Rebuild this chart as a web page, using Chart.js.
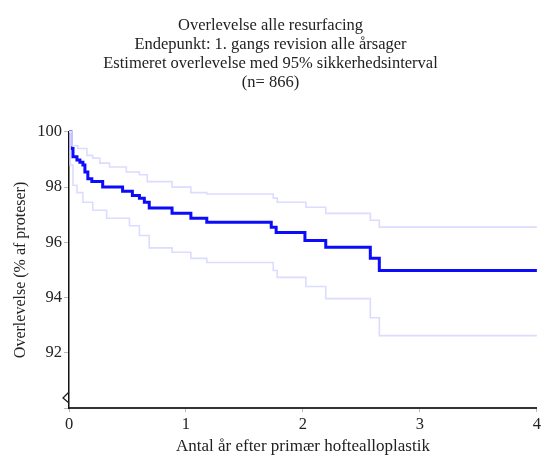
<!DOCTYPE html>
<html>
<head>
<meta charset="utf-8">
<script src="https://cdn.jsdelivr.net/npm/chart.js@4"></script>
<style>
  html, body { margin: 0; padding: 0; background: #fff; }
  #wrap { width: 544px; height: 457px; }
</style>
</head>
<body>
<div id="wrap"><canvas id="chart" width="544" height="457"></canvas></div>
<script>
// Kaplan-Meier overlevelse, år efter operation -> %
const years = [0, 0.017, 0.034, 0.068, 0.093, 0.119, 0.136, 0.161, 0.195, 0.288, 0.458, 0.542, 0.602, 0.644, 0.686, 0.881, 1.042, 1.178, 1.729, 1.771, 2.017, 2.195, 2.576, 2.653, 4.0];
const survival = [100, 99.4, 99.1, 98.98, 98.9, 98.8, 98.55, 98.3, 98.2, 98.0, 97.85, 97.7, 97.6, 97.45, 97.24, 97.05, 96.87, 96.73, 96.55, 96.36, 96.07, 95.82, 95.42, 94.98, 94.98];

// øvre 95% grænse
const upperYears = [0, 0.025, 0.076, 0.153, 0.203, 0.263, 0.347, 0.49, 0.602, 0.669, 0.881, 1.042, 1.178, 1.746, 1.78, 2.025, 2.195, 2.576, 2.653, 4.0];
const upper = [100, 99.5, 99.4, 99.15, 99.05, 98.87, 98.73, 98.55, 98.45, 98.2, 98.0, 97.8, 97.75, 97.6, 97.45, 97.27, 97.05, 96.8, 96.55, 96.55];

// nedre 95% grænse
const lowerYears = [0, 0.01, 0.034, 0.068, 0.119, 0.203, 0.322, 0.517, 0.602, 0.686, 0.881, 1.042, 1.178, 1.746, 1.78, 2.025, 2.195, 2.576, 2.653, 4.0];
const lower = [100, 98.8, 98.07, 97.8, 97.45, 97.16, 96.87, 96.6, 96.25, 95.8, 95.64, 95.42, 95.27, 94.98, 94.73, 94.4, 93.96, 93.27, 92.62, 92.62];

const xTicks = [0, 1, 2, 3, 4];
const yTicks = [90, 92, 94, 96, 98, 100];

const titleLines = [
  'Overlevelse alle resurfacing',
  'Endepunkt: 1. gangs revision alle årsager',
  'Estimeret overlevelse med 95% sikkerhedsinterval',
  '(n= 866)'
];

const pts = (xs, ys) => xs.map((x, i) => ({ x: x, y: ys[i] }));
const serif = "'Liberation Serif', 'Times New Roman', serif";

// lille "brud" på y-aksen nederst
const axisBreak = {
  id: 'axisBreak',
  afterDraw(chart) {
    const { ctx, chartArea, scales } = chart;
    const x = chartArea.left;
    const y = scales.y.getPixelForValue(90);
    ctx.save();
    ctx.strokeStyle = '#222';
    ctx.lineWidth = 1.3;
    ctx.beginPath();
    ctx.moveTo(x, y - 16);
    ctx.lineTo(x - 6, y - 10);
    ctx.lineTo(x, y - 5);
    ctx.stroke();
    ctx.restore();
  }
};

// trappekurve: vandret til næste hændelse, derefter lodret fald
const stepLine = (data, color, width) => ({
  data: data,
  borderColor: color,
  borderWidth: width,
  stepped: 'before',
  pointRadius: 0,
  fill: false,
  clip: 4
});

new Chart(document.getElementById('chart'), {
  type: 'line',
  data: {
    datasets: [
      stepLine(pts(upperYears, upper), 'rgb(220,220,255)', 1.6),
      stepLine(pts(lowerYears, lower), 'rgb(220,220,255)', 1.6),
      stepLine(pts(years, survival), 'rgb(12,12,250)', 3)
    ]
  },
  options: {
    responsive: false,
    animation: false,
    layout: { padding: { right: 3 } },
    plugins: {
      legend: { display: false },
      tooltip: { enabled: false },
      title: {
        display: true,
        text: titleLines,
        color: '#222',
        font: { family: serif, size: 16.5, weight: 'normal', lineHeight: 1.15 },
        padding: { top: 16, bottom: 40 }
      }
    },
    scales: {
      x: {
        type: 'linear',
        min: 0,
        max: 4,
        afterBuildTicks: s => { s.ticks = xTicks.map(v => ({ value: v })); },
        afterFit: s => { s.height = 49; },
        ticks: {
          color: '#222',
          padding: 3,
          maxRotation: 0,
          font: { family: serif, size: 16.5 }
        },
        grid: { drawOnChartArea: false, drawTicks: true, tickLength: 4, color: '#bbb' },
        border: { color: '#333', width: 2 },
        title: {
          display: true,
          text: 'Antal år efter primær hoftealloplastik',
          color: '#222',
          font: { family: serif, size: 17 },
          padding: { top: 0, bottom: 0 }
        }
      },
      y: {
        min: 90,
        max: 100,
        afterBuildTicks: s => { s.ticks = yTicks.map(v => ({ value: v })); },
        afterFit: s => { s.width = 69; },
        ticks: {
          color: '#222',
          padding: 2,
          font: { family: serif, size: 16.5 },
          callback: v => (v === 90 ? '' : v)
        },
        grid: { drawOnChartArea: false, drawTicks: true, tickLength: 5, color: '#bbb' },
        border: { color: '#111', width: 1.5 },
        title: {
          display: true,
          text: 'Overlevelse (% af proteser)',
          color: '#222',
          font: { family: serif, size: 16 },
          padding: { top: 11, bottom: 0 }
        }
      }
    }
  },
  plugins: [axisBreak]
});
</script>
</body>
</html>
